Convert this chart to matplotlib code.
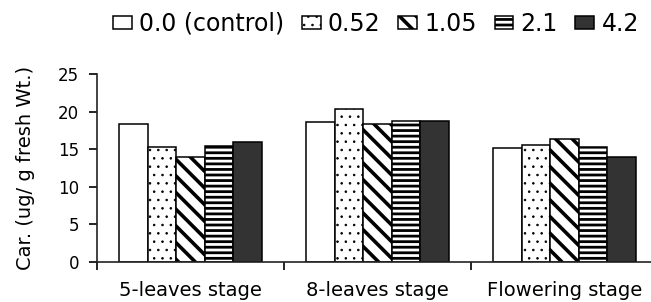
import matplotlib
matplotlib.use("Agg")
import matplotlib.pyplot as plt
import numpy as np

# carotenoid content per growth stage, one list per dose
stages = ["5-leaves stage", "8-leaves stage", "Flowering stage"]
doses = ["0.0 (control)", "0.52", "1.05", "2.1", "4.2"]
control = [18.4, 18.6, 15.1]
dose_052 = [15.3, 20.4, 15.6]
dose_105 = [14.0, 18.3, 16.4]
dose_21 = [15.4, 18.8, 15.3]
dose_42 = [16.0, 18.8, 13.9]
yticks = [0, 5, 10, 15, 20, 25]

series = [control, dose_052, dose_105, dose_21, dose_42]
fills = ["white", "white", "white", "white", "#333333"]
hatches = [None, "..", "\\\\", "---", None]
hatch_lw = [1.0, 0.6, 2.6, 2.0, 1.0]

plt.rcParams["font.family"] = ["DejaVu Sans"]
plt.rcParams["hatch.linewidth"] = 2.0

fig = plt.figure(figsize=(6.51, 3.02), dpi=100)
ax = fig.add_axes([97 / 651, 40 / 302, 561 / 651, 188 / 302])

x = np.arange(len(stages))
w = 0.153
bars = []
for i, vals in enumerate(series):
    b = ax.bar(x + (i - 2) * w, vals, w, color=fills[i], edgecolor="black",
               linewidth=1.1, hatch=hatches[i], label=doses[i])
    for p in b:
        if hasattr(p, "set_hatch_linewidth"):
            p.set_hatch_linewidth(hatch_lw[i])
    bars.append(b)

ax.set_xlim(-0.5, 2.5)
ax.set_ylim(0, 25)
ax.set_yticks(yticks)
ax.set_xticks(x)
ax.set_xticklabels(stages, fontsize=14)
ax.set_xticks([-0.5, 0.5, 1.5], minor=True)
ax.tick_params(axis="x", which="major", length=0, pad=14)
ax.tick_params(axis="x", which="minor", length=5.5, width=1.2, direction="out")
ax.tick_params(axis="y", length=5.8, width=1.2, pad=7, labelsize=12)

for side in ["top", "right"]:
    ax.spines[side].set_visible(False)
for side in ["left", "bottom"]:
    ax.spines[side].set_linewidth(1.2)
    ax.spines[side].set_color("#222222")

ax.set_ylabel("Car. (ug/ g fresh Wt.)", fontsize=14)
ax.yaxis.set_label_coords(-0.11, 0.5)

leg = fig.legend(handles=bars, loc="center", bbox_to_anchor=(376 / 651, 1 - 24 / 302),
                 ncol=5, frameon=False, fontsize=17, handlelength=0.8, handleheight=0.5,
                 handletextpad=0.3, columnspacing=0.75, borderaxespad=0, borderpad=0)
for i, h in enumerate(leg.legend_handles):
    if hasattr(h, "set_hatch_linewidth"):
        h.set_hatch_linewidth(hatch_lw[i])

fig.savefig("out.png", dpi=100)
